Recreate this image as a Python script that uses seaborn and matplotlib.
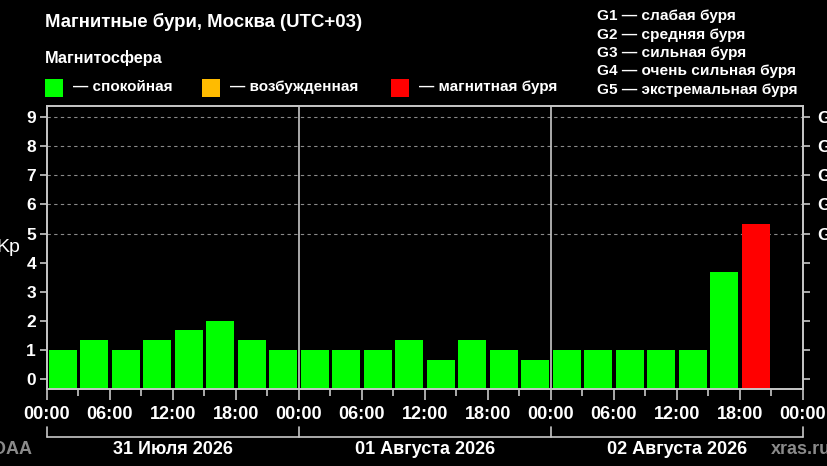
import numpy as np
import pandas as pd
import seaborn as sns
import matplotlib.pyplot as plt
from matplotlib.patches import Rectangle
from matplotlib.transforms import blended_transform_factory

# 3-hour Kp values, 31 Jul - 02 Aug (Moscow time)
slot_start = list(range(0, 72, 3))
kp = [1.0, 1.33, 1.0, 1.33, 1.67, 2.0, 1.33, 1.0,
      1.0, 1.0, 1.0, 1.33, 0.67, 1.33, 1.0, 0.67,
      1.0, 1.0, 1.0, 1.0, 1.0, 3.67, 5.33, np.nan]
status = ["quiet"] * 22 + ["storm", "none"]

day_labels = ["31 Июля 2026", "01 Августа 2026", "02 Августа 2026"]
hour_labels = ["00:00", "06:00", "12:00", "18:00"]
g_levels = ["G1", "G2", "G3", "G4", "G5"]
g_legend = ["G1 — слабая буря", "G2 — средняя буря", "G3 — сильная буря",
            "G4 — очень сильная буря", "G5 — экстремальная буря"]
state_names = ["— спокойная", "— возбужденная", "— магнитная буря"]
state_colors = ["#00ff00", "#ffbb00", "#ff0000"]

palette = {"quiet": state_colors[0], "excited": state_colors[1],
           "storm": state_colors[2], "none": "#000000"}

df = pd.DataFrame({"hour": [h + 1.5 for h in slot_start], "kp": kp,
                   "status": status}).dropna()

sns.set_style("dark")
plt.rcParams['font.family'] = ['Liberation Sans', 'DejaVu Sans']
fg = "#ffffff"
spine = "#c8c8c8"

fig = plt.figure(figsize=(8.28, 4.66), dpi=100, facecolor="black")
ax = fig.add_axes([47 / 828, 1 - 389 / 466, 756 / 828, 283 / 466])
ax.set_facecolor("black")

sns.barplot(data=df, x="hour", y="kp", hue="status", palette=palette,
            native_scale=True, dodge=False, width=0.9, errorbar=None,
            saturation=1, legend=False, linewidth=0, ax=ax)

ymin, ymax = -0.34, 9.38
ax.set_ylim(ymin, ymax)
ax.set_xlim(0, 72)
# bars rest on the bottom frame line
for p in ax.patches:
    h = p.get_y() + p.get_height()
    p.set_y(ymin)
    p.set_height(h - ymin)

ax.grid(False)
for lvl in range(5, 10):
    ax.axhline(lvl, color="#8a8a8a", lw=0.8, ls=(0, (3, 3)), zorder=0)
for d in (24, 48):
    ax.axvline(d, color=spine, lw=1.2, zorder=3)

ax.set_xticks(range(0, 73, 6))
ax.set_xticklabels([hour_labels[(i // 6) % 4] for i in range(0, 73, 6)])
ax.set_xticks(range(0, 73, 3), minor=True)
ax.set_yticks(range(10))
ax.set_xlabel("")
ax.set_ylabel("")
ax.tick_params(axis="x", which="major", length=8, width=1.2, color=spine,
               labelcolor=fg, labelsize=13, pad=4, bottom=True)
ax.tick_params(axis="x", which="minor", length=5, width=1.2, color=spine,
               bottom=True)
ax.tick_params(axis="y", length=5, width=1.2, color=spine, labelcolor=fg,
               labelsize=12.5, pad=3, left=True)
for lab in ax.get_xticklabels() + ax.get_yticklabels():
    lab.set_fontweight("bold")
for s in ax.spines.values():
    s.set_visible(True)
    s.set_color(spine)
    s.set_linewidth(1.2)

ax2 = ax.twinx()
ax2.set_ylim(ymin, ymax)
ax2.set_yticks(range(10))
ax2.set_yticklabels([""] * 5 + g_levels)
ax2.tick_params(axis="y", length=5, width=1.2, color=spine, labelcolor=fg,
                labelsize=12.5, pad=5, right=True)
for lab in ax2.get_yticklabels():
    lab.set_fontweight("bold")
for s in ax2.spines.values():
    s.set_color(spine)
    s.set_linewidth(1.2)

# day bracket under the time axis
tr = blended_transform_factory(ax.transData, ax.transAxes)
y_line = (389 - 437) / 283
y_tick = (389 - 427) / 283
ax.plot([0, 72], [y_line, y_line], color=spine, lw=1.2, transform=tr,
        clip_on=False)
for d in (0, 24, 48, 72):
    ax.plot([d, d], [y_line, y_tick], color=spine, lw=1.2, transform=tr,
            clip_on=False)
for i, lab in enumerate(day_labels):
    ax.text(12 + 24 * i, (389 - 449) / 283, lab, transform=tr, ha="center",
            va="center", color=fg, fontsize=13, fontweight="bold")

# header texts
fig.text(45 / 828, 1 - 22 / 466, "Магнитные бури, Москва (UTC+03)",
         color=fg, fontsize=13.4, fontweight="bold", va="center")
fig.text(45 / 828, 1 - 58 / 466, "Магнитосфера", color=fg, fontsize=11.7,
         fontweight="bold", va="center")
for x0, name, c in zip([45, 202, 391], state_names, state_colors):
    fig.patches.append(Rectangle((x0 / 828, 1 - 97 / 466), 18 / 828,
                                 18 / 466, transform=fig.transFigure,
                                 facecolor=c, edgecolor="none"))
    fig.text((x0 + 28) / 828, 1 - 87 / 466, name, color=fg, fontsize=11,
             fontweight="bold", va="center")
for i, line in enumerate(g_legend):
    fig.text(597 / 828, 1 - (16 + 18.5 * i) / 466, line, color=fg,
             fontsize=11.1, fontweight="bold", va="center")

fig.text(-4 / 828, 1 - 248 / 466, "Kp", color=fg, fontsize=14, va="center")
fig.text(-20 / 828, 1 - 449 / 466, "NOAA", color="#8a8a8a", fontsize=13,
         fontweight="bold", va="center")
fig.text(771 / 828, 1 - 449 / 466, "xras.ru", color="#8a8a8a", fontsize=13,
         fontweight="bold", va="center")

fig.savefig("out.png", dpi=100, facecolor="black")
